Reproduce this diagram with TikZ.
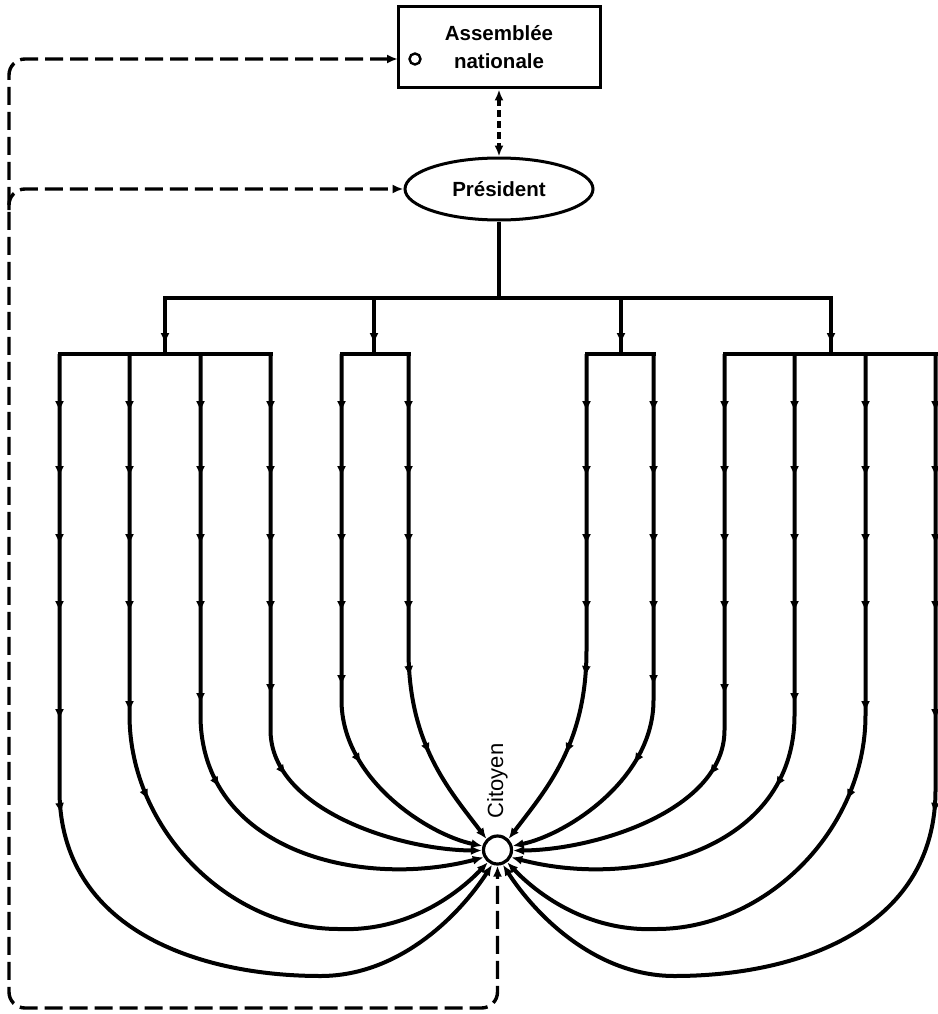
\documentclass[tikz,border=0pt]{standalone}
\usepackage{fontspec}
\setmainfont{Liberation Sans}
\usetikzlibrary{arrows.meta,decorations.markings,shapes.geometric}

\begin{document}
\begin{tikzpicture}[x=1pt,y=-1pt,
  ftip/.tip={Latex[length=11pt,width=9pt]},
  dtip/.tip={Latex[length=11pt,width=9pt]},
  ink/.style={line width=4pt,black},
  barline/.style={ink,line cap=rect},
  dashln/.style={line width=3.4pt,dash pattern=on 18pt off 7pt},
  shortdash/.style={line width=3.2pt,dash pattern=on 7pt off 4pt},
  dropmark/.style={postaction={decorate},
    decoration={markings,mark=at position 46pt with {\arrow{ftip}}}},
  flowmarks/.style 2 args={postaction={decorate},
    decoration={markings,
      mark=at position 58pt with {\arrow{ftip}},
      mark=at position 123pt with {\arrow{ftip}},
      mark=at position 191pt with {\arrow{ftip}},
      mark=at position 258pt with {\arrow{ftip}},
      mark=at position #1 with {\arrow{ftip}},
      mark=at position #2 with {\arrow{ftip}}}},
  boxfont/.style={font=\fontsize{20.5}{28}\selectfont\bfseries},
]
\useasboundingbox (0,0) rectangle (937,1014);

% institutions
\node[draw,line width=3pt,minimum width=202pt,minimum height=81pt,
      align=center,boxfont] (asm) at (499,47.5) {Assemblée\\nationale};
\node[circle,draw,line width=2.4pt,minimum size=11pt,inner sep=0pt] (asmdot) at (415,59) {};
\node[ellipse,draw,line width=3pt,minimum width=188pt,minimum height=62pt,
      inner sep=0pt,boxfont] (pres) at (499,189) {Président};

% the citizen
\node[circle,draw,line width=3.2pt,fill=white,minimum size=28pt,inner sep=0pt] (cit) at (497.5,850) {};
\node[rotate=90,font=\fontsize{22}{26}\selectfont] (citlab) at (497.5,781) {Citoyen};

% electoral links (dashed)
\coordinate (ain) at (398,59);
\coordinate (tl) at (9,59);
\coordinate (bl) at (9,1008);
\coordinate (br) at (497.5,1008);
\coordinate (fork) at (9,210);
\draw[dashln,rounded corners=16pt,{dtip}-{dtip}] (ain) -- (tl) -- (bl) -- (br) -- (cit.south);
\draw[dashln,rounded corners=16pt,-{dtip}] (fork) |- (pres.west);
\draw[shortdash,{dtip}-{dtip}] (asm.south) -- (pres.north);

% administrative hierarchy
\coordinate (hub) at (499,298);
\draw[ink] (pres.south) -- (hub);
\draw[barline] (165,298) -- (831,298);
\foreach \x in {165,374,621,831}
  \draw[ink,dropmark] (\x,298) -- (\x,354);
\draw[barline] (59.5,354) -- (270.5,354);
\draw[barline] (341.5,354) -- (408.5,354);
\draw[barline] (586.5,354) -- (653.5,354);
\draw[barline] (724.5,354) -- (935.5,354);

% channels converging on the citizen
\foreach \s/\ea/\eb/\ec/\ed/\ee/\ef in {1/135/165/182/208/232/250, -1/45/15/358/332/308/290}{
  \draw[ink,-{ftip},flowmarks={323pt}{403pt}]
    ({497.5-\s*89},354) -- ({497.5-\s*89},650)
    .. controls ({497.5-\s*89},745) and ({497.5-\s*48},790) .. (cit.\ea);
  \draw[ink,-{ftip},flowmarks={332pt}{414pt}]
    ({497.5-\s*156},354) -- ({497.5-\s*156},700)
    .. controls ({497.5-\s*156},780) and ({497.5-\s*68},835) .. (cit.\eb);
  \draw[ink,-{ftip},flowmarks={341pt}{425pt}]
    ({497.5-\s*227},354) -- ({497.5-\s*227},730)
    .. controls ({497.5-\s*227},810) and ({497.5-\s*98},850) .. (cit.\ec);
  \draw[ink,-{ftip},flowmarks={350pt}{437pt}]
    ({497.5-\s*297},354) -- ({497.5-\s*297},715)
    .. controls ({497.5-\s*297},850) and ({497.5-\s*138},890) .. (cit.\ed);
  \draw[ink,-{ftip},flowmarks={358pt}{449pt}]
    ({497.5-\s*368},354) -- ({497.5-\s*368},715)
    .. controls ({497.5-\s*368},830) and ({497.5-\s*268},929) .. ({497.5-\s*159},929)
    .. controls ({497.5-\s*88},932) and ({497.5-\s*38},892) .. (cit.\ee);
  \draw[ink,-{ftip},flowmarks={366pt}{460pt}]
    ({497.5-\s*438},354) -- ({497.5-\s*438},790)
    .. controls ({497.5-\s*438},930) and ({497.5-\s*298},976) .. ({497.5-\s*177},976)
    .. controls ({497.5-\s*98},976) and ({497.5-\s*38},915) .. (cit.\ef);
}
\end{tikzpicture}
\end{document}
